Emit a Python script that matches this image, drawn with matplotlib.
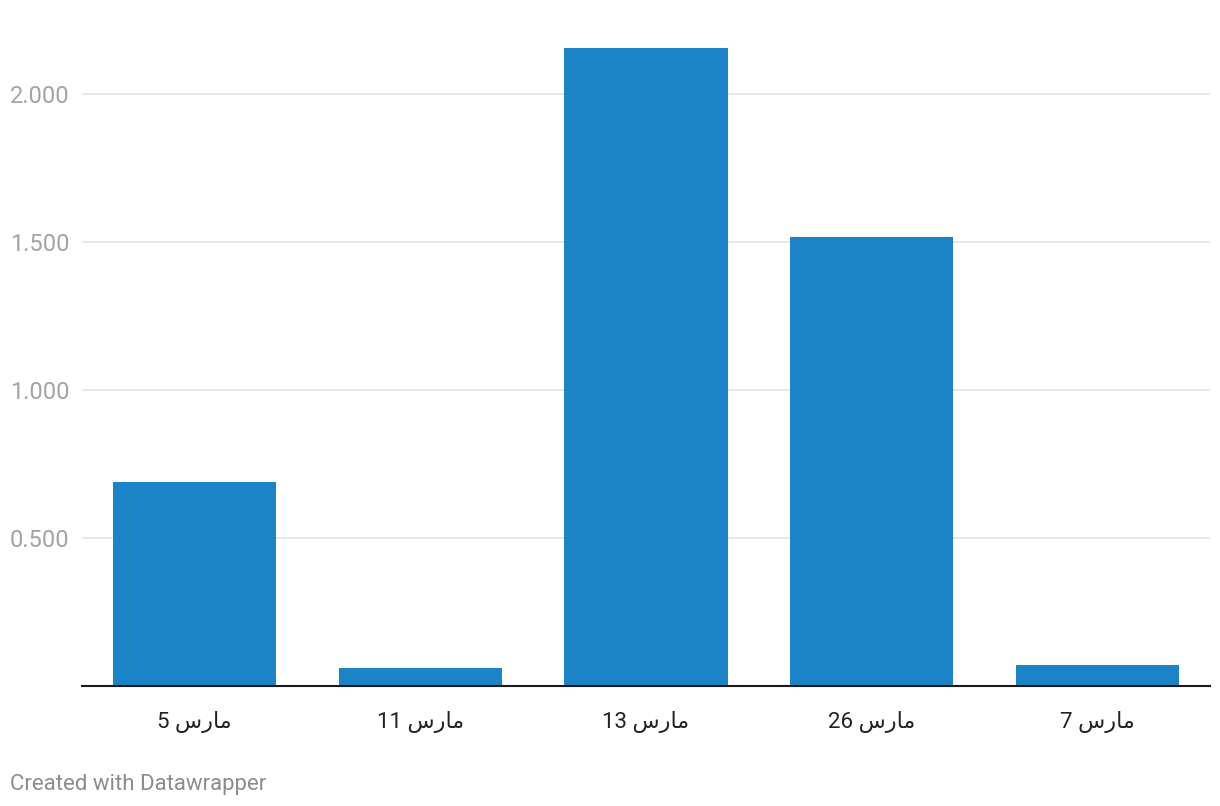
import matplotlib
matplotlib.use("Agg")
import matplotlib.pyplot as plt

# data (values in thousands)
month = "مارس"
days = ["5", "11", "13", "26", "7"]
values = [689, 61, 2155, 1517, 71]
y_ticks = [500, 1000, 1500, 2000]
y_tick_labels = ["0.500", "1.000", "1.500", "2.000"]

BAR_COLOR = "#1b84c6"
GRID_COLOR = "#e3e3e3"

# isolated, final, initial, medial presentation forms (only letters we need)
FORMS = {
    "م": ("\uFEE1", "\uFEE2", "\uFEE3", "\uFEE4"),
    "ا": ("\uFE8D", "\uFE8E", None, None),
    "ر": ("\uFEAD", "\uFEAE", None, None),
    "س": ("\uFEB1", "\uFEB2", "\uFEB3", "\uFEB4"),
}


def shape_arabic(word):
    """Minimal shaping: pick contextual forms and return glyphs in visual order."""
    out = []
    for i, ch in enumerate(word):
        iso, fin, ini, med = FORMS[ch]
        joins_prev = i > 0 and FORMS[word[i - 1]][2] is not None
        joins_next = i < len(word) - 1 and ini is not None
        if joins_prev and joins_next:
            out.append(med)
        elif joins_prev:
            out.append(fin)
        elif joins_next:
            out.append(ini)
        else:
            out.append(iso)
    return "".join(reversed(out))


labels = [f"{d} {shape_arabic(month)}" for d in days]

plt.rcParams["font.family"] = ["Roboto", "DejaVu Sans"]

fig = plt.figure(figsize=(12.2, 8.06), dpi=100)
ax = fig.add_axes([82 / 1220, 120 / 806, 1128 / 1220, 646 / 806])

x = range(len(values))
ax.bar(x, values, width=0.723, color=BAR_COLOR, zorder=2)

ax.set_xlim(-0.5, len(values) - 0.5)
ax.set_ylim(0, 646 / 296 * 1000)

ax.set_yticks(y_ticks)
ax.set_yticklabels(y_tick_labels, fontsize=17, color="#a3a3a3")
ax.tick_params(axis="y", length=0, pad=52)
for lab in ax.get_yticklabels():
    lab.set_horizontalalignment("left")
ax.yaxis.grid(True, color=GRID_COLOR, linewidth=1.2, zorder=0)

ax.set_xticks(list(x))
ax.set_xticklabels(labels, fontsize=16, color="#222222")
ax.tick_params(axis="x", length=0, pad=18)

for side in ["left", "right", "top"]:
    ax.spines[side].set_visible(False)
ax.spines["bottom"].set_color("#1a1a1a")
ax.spines["bottom"].set_linewidth(1.5)
ax.spines["bottom"].set_zorder(3)

fig.text(10 / 1220, 16 / 806, "Created with Datawrapper", fontsize=16,
         color="#8c8c8c", ha="left", va="baseline")

fig.savefig("out.png", dpi=100)
